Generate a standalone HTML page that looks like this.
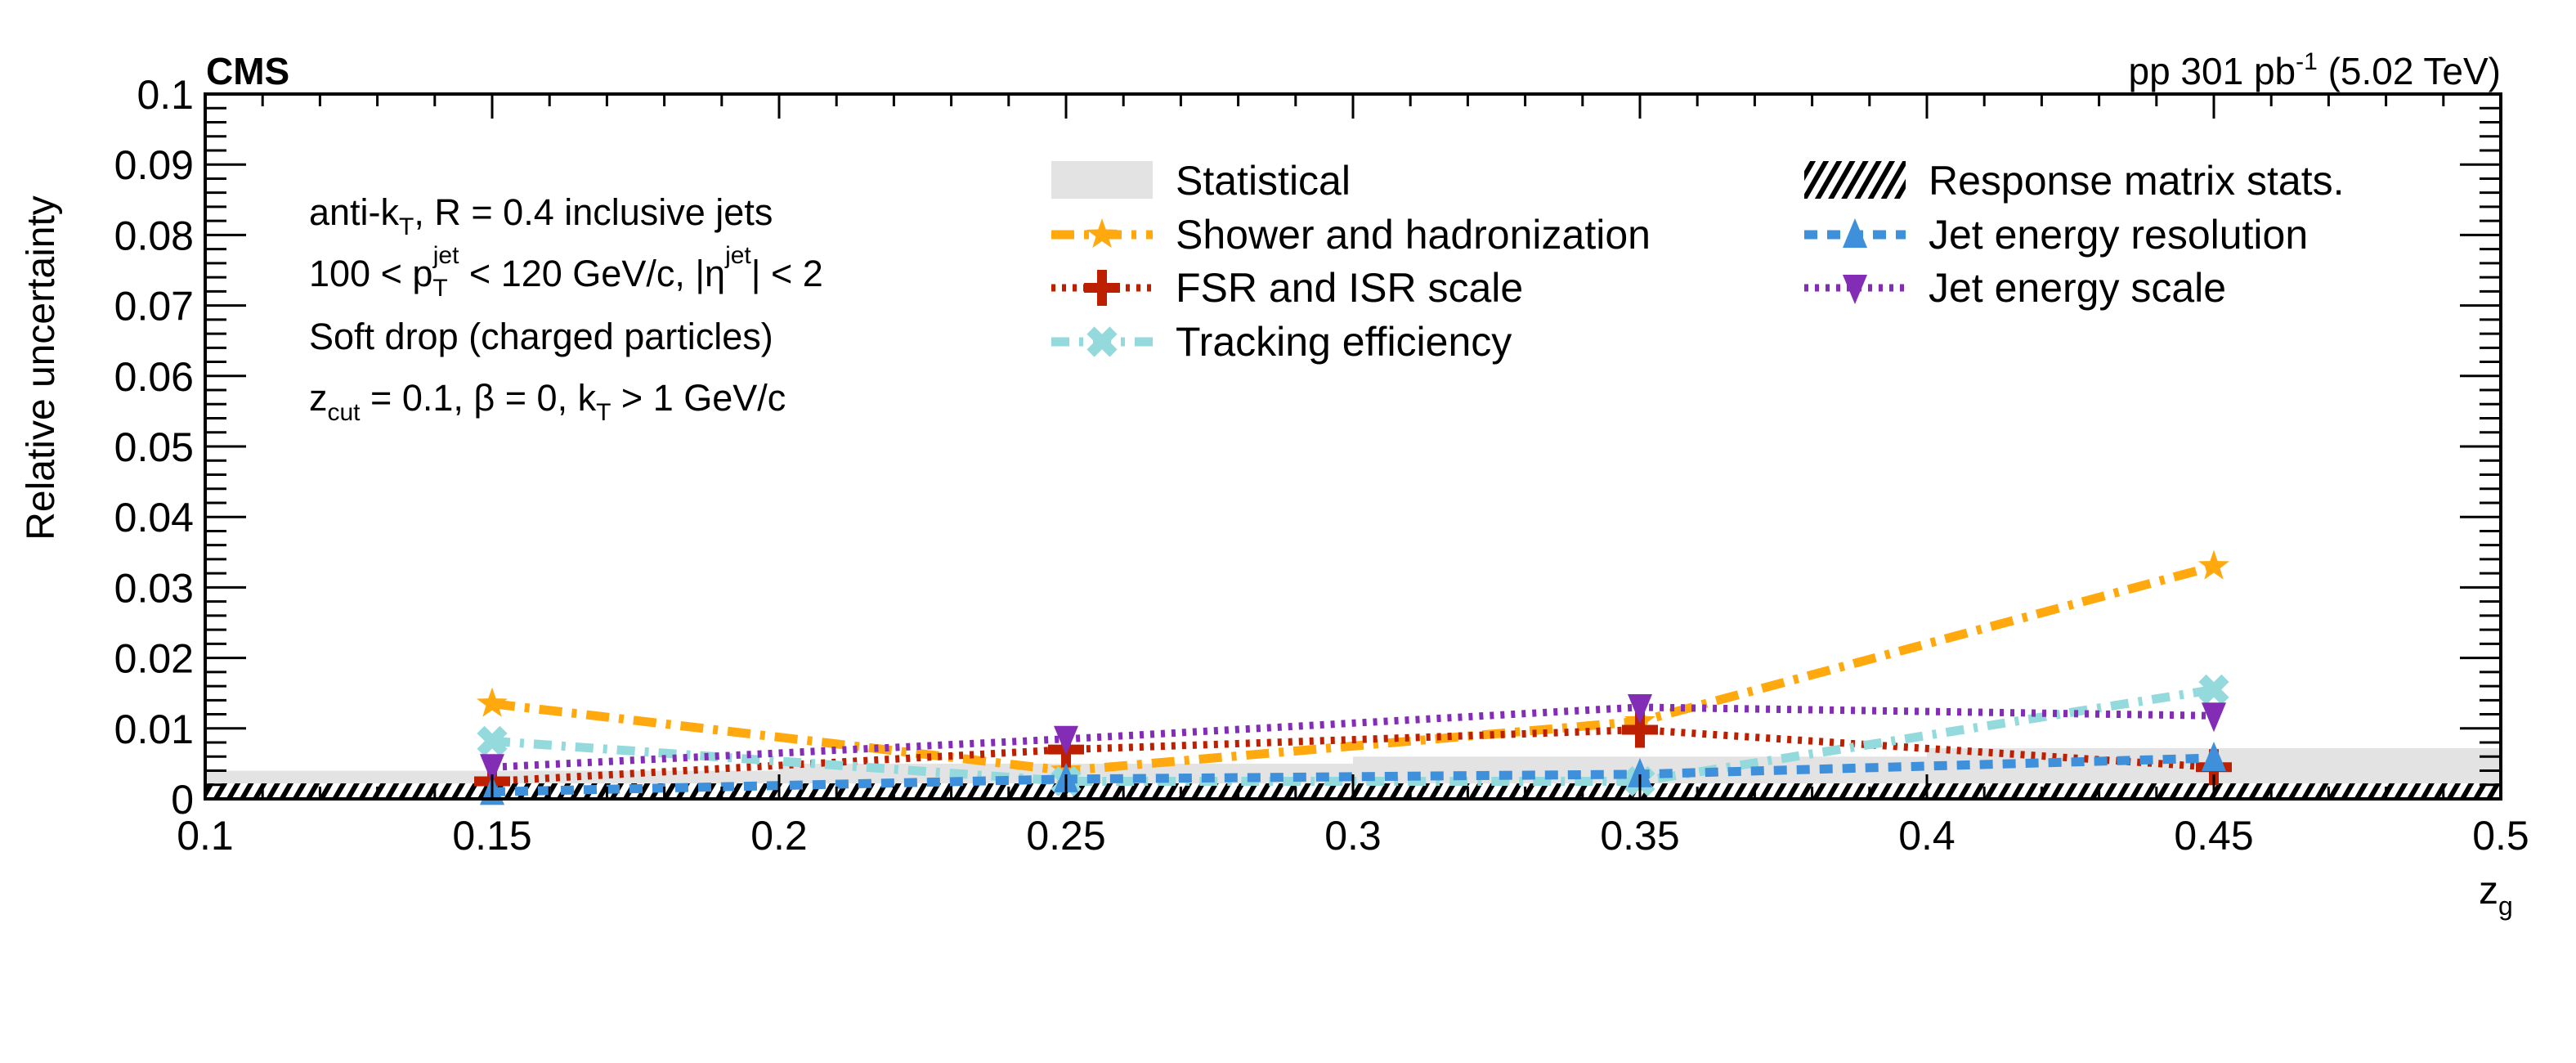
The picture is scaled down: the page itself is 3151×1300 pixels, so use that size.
<!DOCTYPE html>
<html><head><meta charset="utf-8"><style>
html,body{margin:0;padding:0;background:#fff}
svg{display:block}
text{font-family:"Liberation Sans",sans-serif;fill:#000}
</style></head><body>
<svg id="c" width="3151" height="1300" viewBox="0 0 3151 1300" xmlns="http://www.w3.org/2000/svg">
<defs>
<pattern id="hatch" patternUnits="userSpaceOnUse" width="14" height="14" patternTransform="rotate(30)">
<rect width="14" height="14" fill="#fff"/><rect width="6" height="14" fill="#000"/>
</pattern>
</defs>
<g id="bands"></g>
<g id="series"></g>
<g id="axes"></g>
<g id="legend"></g>
<text x="252" y="103" font-size="46" font-weight="bold">CMS</text>
<text x="3059" y="103" font-size="46" text-anchor="end">pp 301 pb<tspan dy="-18" font-size="30">-1</tspan><tspan dy="18"> (5.02 TeV)</tspan></text>
<text transform="translate(66,450) rotate(-90)" font-size="48" text-anchor="middle">Relative uncertainty</text>
<text x="3032" y="1105" font-size="48">z<tspan dy="14" font-size="32">g</tspan></text>
<g font-size="45">
<text x="378" y="275">anti-k<tspan dy="12" font-size="30">T</tspan><tspan dy="-12">, R = 0.4 inclusive jets</tspan></text>
<text x="378" y="350">100 &lt; p<tspan dy="12" font-size="30">T</tspan><tspan dy="-40" dx="-18" font-size="30">jet</tspan><tspan dy="28"> &lt; 120 GeV/c, |η</tspan><tspan dy="-28" font-size="30">jet</tspan><tspan dy="28">| &lt; 2</tspan></text>
<text x="378" y="427">Soft drop (charged particles)</text>
<text x="378" y="502">z<tspan dy="12" font-size="30">cut</tspan><tspan dy="-12"> = 0.1, β = 0, k</tspan><tspan dy="12" font-size="30">T</tspan><tspan dy="-12"> &gt; 1 GeV/c</tspan></text>
</g>
</svg>
<script>
const xTicks=[0.1,0.15,0.2,0.25,0.3,0.35,0.4,0.45,0.5];
const yTicks=[0,0.01,0.02,0.03,0.04,0.05,0.06,0.07,0.08,0.09,0.1];
const yTickLabels=["0","0.01","0.02","0.03","0.04","0.05","0.06","0.07","0.08","0.09","0.1"];
const zg=[0.15,0.25,0.35,0.45];
const binEdges=[0.1,0.2,0.3,0.4,0.5];
const statUnc=[0.004,0.005,0.006,0.0072];
const respUnc=[0.0022,0.0022,0.0022,0.0022];
const shower=[0.0135,0.004,0.011,0.033];
const fsr=[0.0025,0.007,0.0098,0.0045];
const tracking=[0.0082,0.0025,0.0025,0.0155];
const jer=[0.001,0.0028,0.0035,0.0058];
const jes=[0.0045,0.0085,0.013,0.0118];
const L=251,R=3059,T=115,B=977;
const X=v=>L+(v-0.1)/0.4*(R-L);
const Y=v=>B-v/0.1*(B-T);
const NS="http://www.w3.org/2000/svg";
function mk(t,a,p){const e=document.createElementNS(NS,t);for(const k in a)e.setAttribute(k,a[k]);p.appendChild(e);return e;}
const bands=document.getElementById('bands');
for(let i=0;i<statUnc.length;i++){
 const r=mk('rect',{x:X(binEdges[i]),y:Y(statUnc[i]),width:X(binEdges[i+1])-X(binEdges[i]),height:B-Y(statUnc[i]),fill:'#e3e3e3'},bands);
 
 
}
for(let i=0;i<respUnc.length;i++){
 const r=mk('rect',{x:X(binEdges[i]),y:Y(respUnc[i]),width:X(binEdges[i+1])-X(binEdges[i]),height:B-Y(respUnc[i]),fill:'url(#hatch)'},bands);
 
 
}
function marker(type,cx,cy,col,g){
 let e;
 if(type==='star'){let pts=[];for(let k=0;k<10;k++){const r=k%2?8:20,a=-Math.PI/2+k*Math.PI/5;pts.push((cx+r*Math.cos(a))+','+(cy+r*Math.sin(a)));}e=mk('polygon',{points:pts.join(' '),fill:col},g);}
 else if(type==='cross'){e=mk('path',{d:`M${cx-6},${cy-22}h12v16h16v12h-16v16h-12v-16h-16v-12h16z`,fill:col},g);}
 else if(type==='x'){e=mk('path',{d:`M${cx-14},${cy-14}L${cx+14},${cy+14}M${cx+14},${cy-14}L${cx-14},${cy+14}`,stroke:col,'stroke-width':13},g);}
 else if(type==='up'){e=mk('polygon',{points:`${cx},${cy-20} ${cx+15},${cy+16} ${cx-15},${cy+16}`,fill:col},g);}
 else {e=mk('polygon',{points:`${cx},${cy+20} ${cx+15},${cy-16} ${cx-15},${cy-16}`,fill:col},g);}
 
 
}
const defs=[
 {n:'shower-series',d:shower,c:'#ffa90e',m:'star',dash:'28 12 6 12',w:11},
 {n:'fsr-series',d:fsr,c:'#bd1f01',m:'cross',dash:'5 8',w:9},
 {n:'tracking-series',d:tracking,c:'#94dadd',m:'x',dash:'22 12 5 12',w:11},
 {n:'jer-series',d:jer,c:'#3f90da',m:'up',dash:'16 12',w:11},
 {n:'jes-series',d:jes,c:'#832db6',m:'down',dash:'5 8',w:9}
];
const sg=document.getElementById('series');
defs.forEach(s=>{
 const g=mk('g',{},sg);
 
 
 const p=mk('polyline',{points:zg.map((z,i)=>X(z)+','+Y(s.d[i])).join(' '),fill:'none',stroke:s.c,'stroke-width':s.w,'stroke-dasharray':s.dash},g);
 
 
 zg.forEach((z,i)=>marker(s.m,X(z),Y(s.d[i]),s.c,g));
});
const ax=document.getElementById('axes');
const fr=mk('rect',{x:L,y:T,width:R-L,height:B-T,fill:'none',stroke:'#000','stroke-width':4},ax);


for(let i=0;i<=40;i++){const v=0.1+i*0.01;const maj=i%5===0;const h=maj?30:15;
 mk('line',{x1:X(v),x2:X(v),y1:B,y2:B-h,stroke:'#000','stroke-width':3},ax);
 mk('line',{x1:X(v),x2:X(v),y1:T,y2:T+h,stroke:'#000','stroke-width':3},ax);}
for(let i=0;i<=50;i++){const v=i*0.002;const maj=i%5===0;const h=maj?50:26;
 mk('line',{x1:L,x2:L+h,y1:Y(v),y2:Y(v),stroke:'#000','stroke-width':3},ax);
 mk('line',{x1:R,x2:R-h,y1:Y(v),y2:Y(v),stroke:'#000','stroke-width':3},ax);}
xTicks.forEach(v=>{const t=mk('text',{x:X(v),y:B+62,'font-size':50,'text-anchor':'middle'},ax);t.textContent=String(v);
 
 });
yTicks.forEach((v,i)=>{const t=mk('text',{x:L-14,y:Y(v)+18,'font-size':50,'text-anchor':'end'},ax);t.textContent=yTickLabels[i];
 
 });
const lg=document.getElementById('legend');
const entries=[
 {t:'Statistical',x:1286,y:221,k:'stat'},
 {t:'Shower and hadronization',x:1286,y:287,k:0},
 {t:'FSR and ISR scale',x:1286,y:352,k:1},
 {t:'Tracking efficiency',x:1286,y:418,k:2},
 {t:'Response matrix stats.',x:2207,y:221,k:'resp'},
 {t:'Jet energy resolution',x:2207,y:287,k:3},
 {t:'Jet energy scale',x:2207,y:352,k:4}
];
entries.forEach(e=>{
 const g=mk('g',{},lg);
 
 
 if(e.k==='stat')mk('rect',{x:e.x,y:e.y-24,width:124,height:46,fill:'#e3e3e3'},g);
 else if(e.k==='resp')mk('rect',{x:e.x,y:e.y-24,width:124,height:46,fill:'url(#hatch)'},g);
 else{const s=defs[e.k];mk('line',{x1:e.x,x2:e.x+124,y1:e.y,y2:e.y,stroke:s.c,'stroke-width':s.w,'stroke-dasharray':s.dash},g);marker(s.m,e.x+62,e.y,s.c,g);}
 const t=mk('text',{x:e.x+152,y:e.y+17,'font-size':50},g);t.textContent=e.t;
});
</script>
</body></html>
